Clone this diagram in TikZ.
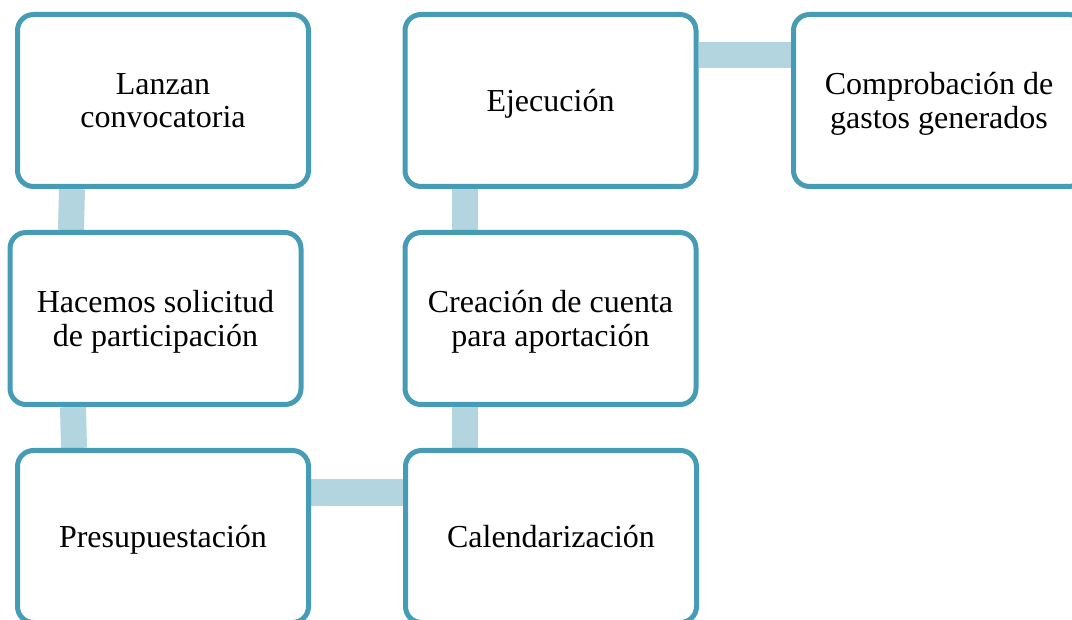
\documentclass[tikz,border=0pt]{standalone}
\usepackage{fontspec}
\setmainfont{Liberation Serif}
\usetikzlibrary{backgrounds}
\definecolor{borde}{HTML}{479CB5}
\definecolor{colorenlace}{HTML}{B2D5E0}

\begin{document}
\begin{tikzpicture}[x=1pt, y=-1pt,
    etapa/.style={draw=borde, line width=5pt, rounded corners=16pt, fill=white,
      minimum width=291pt, minimum height=172pt, inner sep=0pt, align=center,
      text depth=0pt, font=\fontsize{32}{33.5}\selectfont},
    conector/.style={draw=colorenlace, line width=26pt}]
    \useasboundingbox (0,0) rectangle (1072,620);
    \clip (0,0) rectangle (1072,620);
    \node[etapa] (lanzan) at (163,100.5) {Lanzan\\convocatoria};
    \node[etapa] (hacemos) at (155.5,318.5) {Hacemos solicitud\\de participación};
    \node[etapa] (presup) at (163,536.5) {Presupuestación};
    \node[etapa] (calend) at (551,536.5) {Calendarización};
    \node[etapa] (creacion) at (550.5,318.5) {Creación de cuenta\\para aportación};
    \node[etapa] (ejec) at (550.5,100.5) {Ejecución};
    \node[etapa] (comprob) at (939,100.5) {Comprobación de\\gastos generados};
    \begin{scope}[on background layer]
      \draw[conector] ([xshift=-91pt]lanzan.south) -- ([xshift=-84.5pt]hacemos.north);
      \draw[conector] ([xshift=-82.5pt]hacemos.south) -- ([xshift=-89pt]presup.north);
      \draw[conector] ([yshift=44pt]presup.east) -- ([yshift=44pt]calend.west);
      \draw[conector] ([xshift=-86.5pt]calend.north) -- ([xshift=-86pt]creacion.south);
      \draw[conector] ([xshift=-86pt]creacion.north) -- ([xshift=-86pt]ejec.south);
      \draw[conector] ([yshift=45pt]ejec.east) -- ([yshift=45pt]comprob.west);
    \end{scope}
\end{tikzpicture}
\end{document}
